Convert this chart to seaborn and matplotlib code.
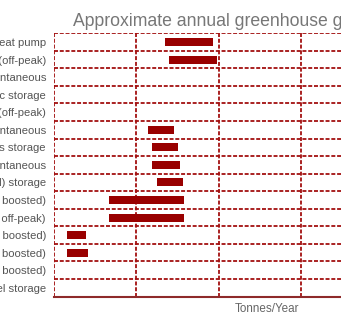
import matplotlib
matplotlib.use("Agg")
import matplotlib.pyplot as plt
import seaborn as sns
import numpy as np
import pandas as pd

categories = [
    "Heat pump",
    "Heat pump (off-peak)",
    "Electric instantaneous",
    "Electric storage",
    "Electric storage (off-peak)",
    "Gas instantaneous",
    "Gas storage",
    "LPG instantaneous",
    "LPG (bottled) storage",
    "Solar (electric boosted)",
    "Solar (electric boosted off-peak)",
    "Solar (gas boosted)",
    "Solar (LPG boosted)",
    "Solar (wood boosted)",
    "Solid fuel storage",
]
low = [1.35, 1.40, np.nan, np.nan, np.nan, 1.14, 1.19, 1.19, 1.25, 0.67, 0.67, 0.16, 0.16, np.nan, np.nan]
high = [1.93, 1.98, np.nan, np.nan, np.nan, 1.46, 1.51, 1.53, 1.57, 1.58, 1.58, 0.39, 0.42, np.nan, np.nan]
x_ticks = [0, 1, 2, 3, 4, 5]
title = "Approximate annual greenhouse gas emissions"
xlabel = "Tonnes/Year"

sns.set_theme(style="white")
plt.rcParams["font.family"] = ["Liberation Sans", "DejaVu Sans"]

W, H = 341, 328
fig = plt.figure(figsize=(W / 100, H / 100), dpi=100)
left_px, top_px, bottom_px = 53.5, 33.3, 296.5
unit_px = 82.5
xmax = 5
ax = fig.add_axes([left_px / W, (H - bottom_px) / H,
                   xmax * unit_px / W, (bottom_px - top_px) / H])

df = pd.DataFrame({"cat": categories, "low": low, "high": high}).dropna()
sns.barplot(data=df, x="high", y="cat", order=categories, orient="h",
            color="#990000", saturation=1, width=0.46, ax=ax, zorder=3)
lows = dict(zip(categories, low))
for p in ax.patches:
    row = int(round(p.get_y() + p.get_height() / 2))
    lo = lows[categories[row]]
    p.set_x(lo)
    p.set_width(p.get_width() - lo)
    p.set_edgecolor("none")

ax.set_xlim(0, xmax)
ax.set_ylim(len(categories) - 0.5, -0.5)
ax.set_xticks(x_ticks)
ax.set_xticklabels([])
ax.set_yticks(range(len(categories)))
ax.set_yticklabels(categories)
ax.set_yticks(np.arange(-0.5, len(categories)), minor=True)
ax.tick_params(axis="y", which="both", length=0, pad=5.4, labelsize=8.1, labelcolor="#555555")
ax.tick_params(axis="x", length=0)
gc = "#a31010"
ax.grid(False)
ax.grid(axis="y", which="minor", color=gc, linestyle=(0, (2.2, 1.0)), linewidth=1.3, zorder=1)
ax.grid(axis="x", which="major", color=gc, linestyle=(0, (2.2, 1.0)), linewidth=1.3, zorder=1)
ax.set_axisbelow(True)
for s in ["top", "right", "left"]:
    ax.spines[s].set_visible(False)
ax.spines["bottom"].set_color("#8e2a2a")
ax.spines["bottom"].set_linewidth(1.5)
ax.set_ylabel("")
ax.set_xlabel(xlabel, fontsize=8.4, color="#666666", labelpad=6)
ax.xaxis.set_label_coords((267 - left_px) / (xmax * unit_px), -0.025, transform=ax.transAxes)
ax.xaxis.label.set_va("top")

fig.text(72.7 / W, 1 - 26 / H, title, fontsize=12.7, color="#777777",
         ha="left", va="baseline")

fig.savefig("out.png", dpi=100)
